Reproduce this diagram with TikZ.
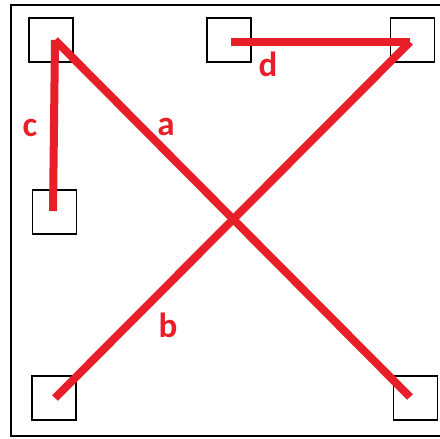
\documentclass[tikz,border=0pt]{standalone}
\usepackage{fontspec}
\setmainfont{Carlito}
\usepackage{tikz}
\usetikzlibrary{positioning,calc}
\usepackage{xcolor}
\definecolor{wirered}{RGB}{232,30,40}

\begin{document}
\begin{tikzpicture}[
  x=1pt, y=-1pt,
  pad/.style={draw, rectangle, line width=1.6pt, minimum size=44pt, inner sep=0pt},
  wire/.style={draw=wirered, line width=8pt},
  lbl/.style={text=wirered, font=\fontsize{35}{35}\selectfont\bfseries, anchor=base, inner sep=0pt}
]
  \useasboundingbox (0,0) rectangle (440,439);
  \draw[line width=2pt] (446,5) -- (11,5) -- (11,436) -- (446,436);

  \node[pad] (TL) at (51,40) {};
  \node[pad] (TM) at (228.7,40) {};
  \node[pad] (TR) at (412.5,40) {};
  \node[pad] (LM) at (54.3,212) {};
  \node[pad] (BL) at (53.8,397.7) {};
  \node[pad] (BR) at (415.5,397.7) {};

  \coordinate (pTL) at (55,40);
  \coordinate (pTM) at (231,42);
  \coordinate (pTR) at (410,42);
  \coordinate (pLM) at (53,211);
  \coordinate (pBL) at (55,398);
  \coordinate (pBR) at (410,397);

  \draw[wire] (pLM) -- (pTL);
  \draw[wire] (pTL) -- (pBR);
  \draw[wire] (pBL) -- (pTR);
  \draw[wire] (pTM) -- (pTR);

  \node[lbl] (la) at (166,135) {a};
  \node[lbl] (lb) at (168,337) {b};
  \node[lbl] (lc) at (30,136) {c};
  \node[lbl] (ld) at (268,77) {d};
\end{tikzpicture}
\end{document}
